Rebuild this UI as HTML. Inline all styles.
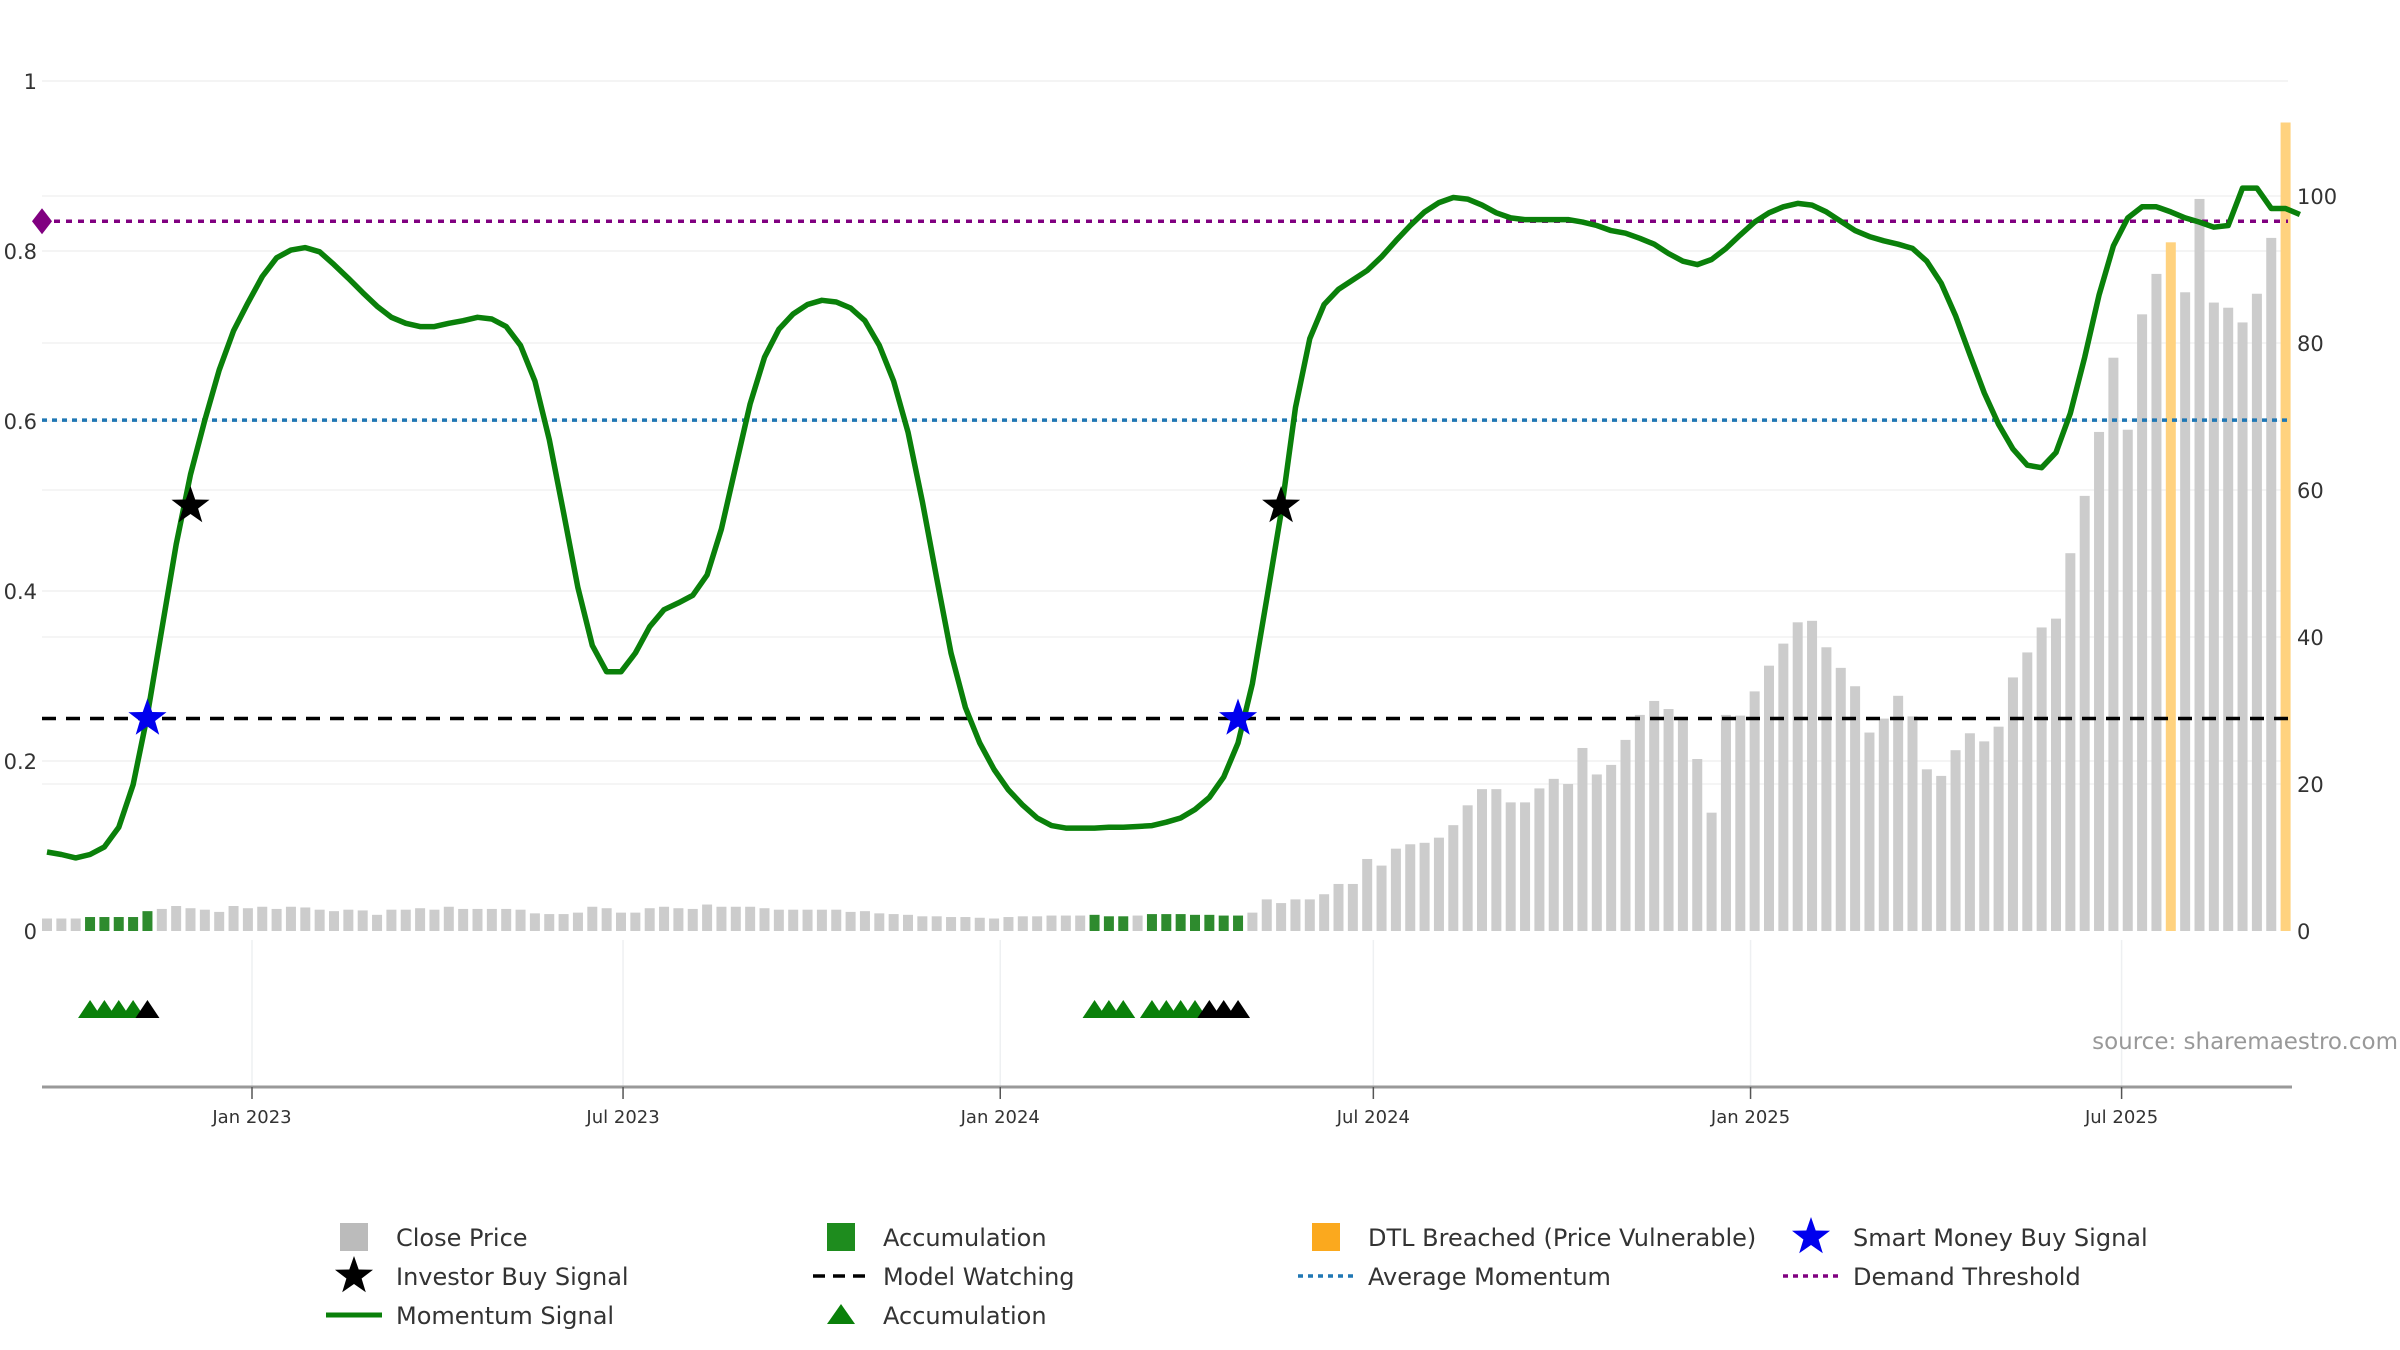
<!DOCTYPE html>
<html><head><meta charset="utf-8">
<style>
html,body{margin:0;padding:0;background:#fff;}
svg{display:block;font-family:"DejaVu Sans","Liberation Sans",sans-serif;}
</style></head>
<body>
<svg id="chart" width="2400" height="1350" viewBox="0 0 2400 1350" xmlns="http://www.w3.org/2000/svg">
<g id="grid"></g>
<g id="bars"></g>
<g id="refs"></g>
<g id="line"></g>
<g id="marks"></g>
<g id="axes"></g>
<text x="2398" y="1049" text-anchor="end" font-size="23" fill="#999">source: sharemaestro.com</text>
<g id="legend"></g>
</svg>
<script>
// ---- data ----
const closePrice = [1.7,1.7,1.7,1.9,1.9,1.9,1.9,2.7,
3.0,3.4,3.1,2.9,2.6,3.4,3.1,3.3,3.0,3.3,3.2,2.9,2.7,2.9,2.8,2.2,2.9,2.9,3.1,2.9,
3.3,3.0,3.0,3.0,3.0,2.9,2.4,2.3,2.3,2.5,3.3,3.1,2.5,2.5,3.1,3.3,3.1,3.0,3.6,3.3,
3.3,3.3,3.1,2.9,2.9,2.9,2.9,2.9,2.6,2.7,2.4,2.3,2.2,2.0,2.0,1.9,1.9,1.8,1.7,1.9,2.0,2.0,2.1,2.1,2.1,
2.2,2.0,2.0,2.1,2.3,2.3,2.3,2.2,2.2,2.1,2.1,
2.5,4.3,3.8,4.3,4.3,5.0,6.4,6.4,9.8,8.9,11.2,11.8,12.0,12.7,14.4,17.1,19.3,19.3,17.5,17.5,19.4,20.7,20.0,24.9,21.3,22.6,26.0,29.4,31.3,30.2,29.1,23.4,16.1,29.4,29.3,32.6,36.1,39.1,42.0,42.2,38.6,35.8,33.3,27.0,28.9,32.0,29.2,22.0,21.1,24.6,26.9,25.8,27.8,34.5,37.9,41.3,42.5,
51.4,59.2,67.9,78.0,68.2,83.9,89.4,93.7,86.9,99.6,85.5,84.8,82.8,86.7,94.3,110.0];
const accumBars = [3,4,5,6,7,73,74,75,77,78,79,80,81,82,83];
const dtlBars = [148,156];
const momentum = [0.093,0.090,0.086,0.090,0.099,0.122,0.172,0.254,0.355,0.455,
0.537,0.601,0.660,0.706,0.739,0.770,0.792,0.801,0.804,0.799,
0.784,0.768,0.751,0.735,0.722,0.715,0.711,0.711,0.715,0.718,
0.722,0.720,0.711,0.689,0.647,0.578,0.492,0.404,0.336,0.305,
0.305,0.327,0.358,0.378,0.386,0.395,0.419,0.473,0.547,0.620,
0.675,0.708,0.726,0.737,0.742,0.740,0.733,0.718,0.689,0.647,
0.587,0.505,0.415,0.327,0.263,0.221,0.190,0.166,0.148,0.133,
0.124,0.121,0.121,0.121,0.122,0.122,0.123,
0.124,0.128,0.133,0.143,0.157,0.181,0.221,0.291,0.391,0.492,
0.616,0.697,0.737,0.755,0.766,0.777,0.793,0.812,0.830,0.846,
0.857,0.863,0.861,0.854,0.845,0.839,0.837,0.837,0.837,0.837,
0.834,0.830,0.824,0.821,0.815,0.808,0.797,0.788,0.784,0.790,
0.803,0.819,0.834,0.845,0.852,0.856,0.854,0.846,0.835,0.824,
0.817,0.812,0.808,0.803,0.788,0.762,0.724,0.678,0.633,0.596,
0.567,0.548,0.545,0.563,0.609,0.675,0.748,0.806,0.839,0.852,
0.852,0.846,0.839,0.834,0.828,0.830,0.874,0.874,0.850,0.850,0.843];
const demandThreshold = 0.835;
const avgMomentum = 0.601;
const modelWatching = 0.25;
const investorBuy = [10,86];
const smartMoneyBuy = [7,83];
const triGreen = [3,4,5,6,73,74,75,77,78,79,80];
const triBlack = [7,81,82,83];
const leftTicks = [0,0.2,0.4,0.6,0.8,1];
const leftTickLabels = ["0","0.2","0.4","0.6","0.8","1"];
const rightTicks = [0,20,40,60,80,100];
const monthTicks = ["2023-01-01","2023-07-01","2024-01-01","2024-07-01","2025-01-01","2025-07-01"];
const monthLabels = ["Jan 2023","Jul 2023","Jan 2024","Jul 2024","Jan 2025","Jul 2025"];

// ---- scales ----
const NS="http://www.w3.org/2000/svg";
const X0=47, DX=14.35, START=Date.UTC(2022,8,23);
const xOf=i=>X0+i*DX;
const xDate=s=>{const d=new Date(s+"T00:00:00Z");return X0+((d-START)/86400000/7)*DX;};
const yL=v=>931-v*850;
const yR=v=>931-v*7.35;
const PL=42, PR=2288;
function mk(tag,attrs,parent){const e=document.createElementNS(NS,tag);for(const k in attrs)e.setAttribute(k,attrs[k]);parent.appendChild(e);return e;}
const G=id=>document.getElementById(id);

// gridlines
leftTicks.forEach(t=>{if(t===0)return;const l=mk('line',{x1:PL,x2:PR,y1:yL(t),y2:yL(t),stroke:'#f0f0f0','stroke-width':1.5},G('grid'));

});
rightTicks.forEach(t=>{if(t===0)return;const l=mk('line',{x1:PL,x2:PR,y1:yR(t),y2:yR(t),stroke:'#f2f2f2','stroke-width':1.5},G('grid'));

});
monthTicks.forEach(m=>{const x=xDate(m);const l=mk('line',{x1:x,x2:x,y1:940,y2:1087,stroke:'#eef0f2','stroke-width':1.5},G('grid'));

});

// bars
closePrice.forEach((v,i)=>{
  let fill='#cccccc';
  if(accumBars.includes(i))fill='#2e8b2e';
  if(dtlBars.includes(i))fill='#ffd27f';
  const w=10;
  const r=mk('rect',{x:xOf(i)-w/2,y:yR(v),width:w,height:931-yR(v),fill:fill},G('bars'));
  
  
});

// reference lines
function hline(v,color,dash,name){const l=mk('line',{x1:PL,x2:PR,y1:yL(v),y2:yL(v),stroke:color,'stroke-width':3.5,'stroke-dasharray':dash},G('refs'));

}
hline(avgMomentum,'#1f77b4','5 5','average-momentum-line');
hline(demandThreshold,'#800080','6 6','demand-threshold-line');
hline(modelWatching,'#000','14 10','model-watching-line');
const dm=mk('polygon',{points:`${PL},${yL(demandThreshold)-13} ${PL+10},${yL(demandThreshold)} ${PL},${yL(demandThreshold)+13} ${PL-10},${yL(demandThreshold)}`,fill:'#800080'},G('refs'));



// momentum line
const pts=momentum.map((v,i)=>xOf(i).toFixed(1)+','+yL(v).toFixed(1)).join(' ');
const ml=mk('polyline',{points:pts,fill:'none',stroke:'#0a800a','stroke-width':5.5,'stroke-linejoin':'round'},G('line'));



// stars
function starPts(cx,cy,R,r){let p=[];for(let k=0;k<10;k++){const a=-Math.PI/2+k*Math.PI/5;const rr=k%2?r:R;p.push((cx+rr*Math.cos(a)).toFixed(1)+','+(cy+rr*Math.sin(a)).toFixed(1));}return p.join(' ');}
investorBuy.forEach(i=>{const s=mk('polygon',{points:starPts(xOf(i),yL(0.5),20,8),fill:'#000'},G('marks'));

});
smartMoneyBuy.forEach(i=>{const s=mk('polygon',{points:starPts(xOf(i),yL(modelWatching),20,8),fill:'#0000ee'},G('marks'));

});
// triangles
function tri(i,color,name){const x=xOf(i),y=1009;const t=mk('polygon',{points:`${x-12},${y+9} ${x+12},${y+9} ${x},${y-9}`,fill:color},G('marks'));

}
triGreen.forEach(i=>tri(i,'#0a800a','accumulation-triangle'));
triBlack.forEach(i=>tri(i,'#000','watch-triangle'));

// axes
const ax=G('axes');
const xl=mk('line',{x1:PL,x2:2292,y1:1087,y2:1087,stroke:'#999','stroke-width':3},ax);


monthTicks.forEach((m,k)=>{const x=xDate(m);
  const t=mk('line',{x1:x,x2:x,y1:1087,y2:1099,stroke:'#555','stroke-width':1.5},ax);
  
  
  const tx=mk('text',{x:x,y:1123,'text-anchor':'middle','font-size':18,fill:'#333'},ax);tx.textContent=monthLabels[k];
  
  });
leftTicks.forEach((t,k)=>{const tx=mk('text',{x:37,y:yL(t)+8,'text-anchor':'end','font-size':21,fill:'#333'},ax);tx.textContent=leftTickLabels[k];
  
  });
rightTicks.forEach(t=>{const tx=mk('text',{x:2297,y:yR(t)+8,'font-size':21,fill:'#333'},ax);tx.textContent=String(t);
  
  });

// legend
const lg=G('legend');
const cols=[354,841,1326,1811], rows=[1237,1276,1315];
const entries=[
 [0,0,'sq','#bbbbbb','Close Price'],[0,1,'star','#000','Investor Buy Signal'],[0,2,'line','#0a800a','Momentum Signal'],
 [1,0,'sq','#1e8c1e','Accumulation'],[1,1,'dash','#000','Model Watching'],[1,2,'tri','#0a800a','Accumulation'],
 [2,0,'sq','#fba91e','DTL Breached (Price Vulnerable)'],[2,1,'dot','#1f77b4','Average Momentum'],
 [3,0,'star','#0000ee','Smart Money Buy Signal'],[3,1,'dot','#800080','Demand Threshold']];
entries.forEach(e=>{
  const cx=cols[e[0]], cy=rows[e[1]];
  const g=mk('g',{},lg);
  
  
  if(e[2]==='sq')mk('rect',{x:cx-14,y:cy-14,width:28,height:28,fill:e[3]},g);
  if(e[2]==='star')mk('polygon',{points:starPts(cx,cy,20,8),fill:e[3]},g);
  if(e[2]==='line')mk('line',{x1:cx-28,x2:cx+28,y1:cy,y2:cy,stroke:e[3],'stroke-width':5},g);
  if(e[2]==='dash')mk('line',{x1:cx-28,x2:cx+28,y1:cy,y2:cy,stroke:e[3],'stroke-width':3.5,'stroke-dasharray':'12 8'},g);
  if(e[2]==='dot')mk('line',{x1:cx-28,x2:cx+28,y1:cy,y2:cy,stroke:e[3],'stroke-width':3.5,'stroke-dasharray':'5 5'},g);
  if(e[2]==='tri')mk('polygon',{points:`${cx-14},${cy+9} ${cx+14},${cy+9} ${cx},${cy-11}`,fill:e[3]},g);
  const t=mk('text',{x:cx+42,y:cy+9,'font-size':24,fill:'#333'},g);t.textContent=e[4];
});
</script>
</body></html>
